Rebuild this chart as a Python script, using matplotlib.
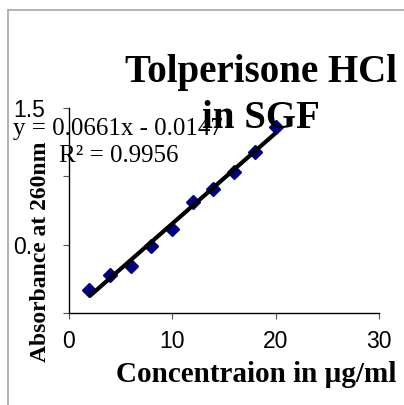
import numpy as np
import matplotlib
matplotlib.use("Agg")
import matplotlib.pyplot as plt
from matplotlib.lines import Line2D

# data
conc = [2, 4, 6, 8, 10, 12, 14, 16, 18, 20]
absorb = [0.171, 0.282, 0.348, 0.49, 0.613, 0.811, 0.907, 1.032, 1.179, 1.363]

x_ticks = [0, 10, 20, 30]
y_ticks = [0, 0.5, 1.0, 1.5]
y_ticklabels = ["", "0.", "", "1.5"]   # the others are hidden in the original

eq_text = "y = 0.0661x - 0.0147"
r2_text = "R² = 0.9956"

W, H = 404, 405
fig = plt.figure(figsize=(W / 100, H / 100), dpi=100)
fig.patch.set_facecolor("white")

# light gray chart-area border
fig.add_artist(Line2D([8 / W, 8 / W], [0, 1 - 10 / H], color="#a6a6a6", lw=1.2))
fig.add_artist(Line2D([8 / W, 1], [1 - 10 / H, 1 - 10 / H], color="#a6a6a6", lw=1.2))

ax = fig.add_axes([68.5 / W, 91.7 / H, (379 - 68.5) / W, (313.3 - 108) / H])

# trendline
coef = np.polyfit(conc, absorb, 1)
xs = np.array([min(conc), max(conc)])
ax.plot(xs, np.polyval(coef, xs), color="black", lw=3, zorder=3, solid_capstyle="butt")
ax.plot(conc, absorb, linestyle="none", marker="D", ms=7, color="#000080", zorder=2)

ax.set_xlim(0, 30)
ax.set_ylim(0, 1.5)
ax.spines["top"].set_visible(False)
ax.spines["right"].set_visible(False)
ax.spines["left"].set_linewidth(1)
ax.spines["bottom"].set_linewidth(1)

ax.set_xticks(x_ticks)
ax.set_xticklabels([str(t) for t in x_ticks], family="Liberation Sans", fontsize=16.5)
ax.tick_params(axis="x", direction="out", length=4.3, width=0.8, pad=8, color="#555555")

ax.set_yticks(y_ticks)
ax.set_yticklabels(y_ticklabels, family="Liberation Sans", fontsize=16.5, ha="left")
ax.tick_params(axis="y", direction="out", length=4.3, width=0.8, pad=35.6, color="#555555")

# axis labels
fig.text(41 / W, 1 - 252 / H, "Absorbance at 260nm", rotation=90, ha="center", va="center",
         family="Liberation Serif", weight="bold", fontsize=17)
fig.text(256 / W, 1 - 374 / H, "Concentraion in µg/ml", ha="center", va="center",
         family="Liberation Serif", weight="bold", fontsize=21)

# title
fig.text(261 / W, 1 - 82 / H, "Tolperisone HCl", ha="center", va="baseline",
         family="Liberation Serif", weight="bold", fontsize=28)
fig.text(261 / W, 1 - 128 / H, "in SGF", ha="center", va="baseline",
         family="Liberation Serif", weight="bold", fontsize=28)

# trendline equation
fig.text(118 / W, 1 - 129 / H, eq_text, ha="center", va="center",
         family="Liberation Serif", fontsize=18)
fig.text(119 / W, 1 - 156 / H, r2_text, ha="center", va="center",
         family="Liberation Serif", fontsize=18)

fig.savefig("out.png", dpi=100)
